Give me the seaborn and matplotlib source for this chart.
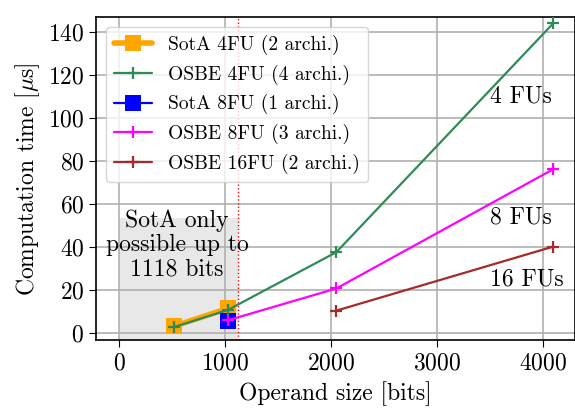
import matplotlib
matplotlib.use("Agg")
import matplotlib.pyplot as plt
import seaborn as sns
import pandas as pd

# Data
sota4_x = [512, 1024]
sota4_y = [3.2, 11.5]
osbe4_x = [512, 1024, 2048, 4096]
osbe4_y = [2.8, 10.8, 37.7, 144.2]
sota8_x = [1024]
sota8_y = [5.8]
osbe8_x = [1024, 2048, 4096]
osbe8_y = [6.0, 20.8, 76.3]
osbe16_x = [2048, 4096]
osbe16_y = [10.5, 40.3]
limit_bits = 1118

sns.set_style("whitegrid")
plt.rcParams.update({
    "font.family": "serif",
    "font.serif": ["cmr10"],
    "mathtext.fontset": "cm",
    "axes.formatter.use_mathtext": True,
    "axes.edgecolor": "black",
    "axes.linewidth": 1.2,
    "grid.color": "#b0b0b0",
    "grid.linewidth": 1.2,
    "xtick.bottom": True,
    "ytick.left": True,
    "xtick.major.size": 5,
    "ytick.major.size": 5,
    "xtick.color": "black",
    "ytick.color": "black",
    "text.color": "black",
    "axes.labelcolor": "black",
})

fig, ax = plt.subplots(figsize=(5.75, 4.09), dpi=100)
fig.subplots_adjust(left=0.167, right=1.0, top=0.958, bottom=0.168)

# shaded region
ax.fill_between([0, limit_bits], [-5, -5], [53.5, 53.5], color="#e8e8e8", zorder=0.5, lw=0)
ax.axvline(limit_bits, color="red", ls=":", lw=1, zorder=1)

def draw(x, y, color, marker, label, lw, z, ms=9, mew=1.6):
    sns.lineplot(x=x, y=y, ax=ax, color=color, lw=lw, marker=marker, markersize=ms,
                 markeredgewidth=mew, markeredgecolor=color, markerfacecolor=color,
                 label=label, zorder=z)

draw(sota4_x, sota4_y, "orange", "s", "SotA 4FU (2 archi.)", 4, 3, ms=11, mew=0)
draw(osbe4_x, osbe4_y, "seagreen", "+", "OSBE 4FU (4 archi.)", 1.6, 5)
draw(sota8_x, sota8_y, "blue", "s", "SotA 8FU (1 archi.)", 1.6, 3, ms=11, mew=0)
draw(osbe8_x, osbe8_y, "magenta", "+", "OSBE 8FU (3 archi.)", 1.6, 4)
draw(osbe16_x, osbe16_y, "brown", "+", "OSBE 16FU (2 archi.)", 1.6, 4)

fs = 17
ax.text(545, 41, "SotA only\npossible up to\n1118 bits", ha="center", va="center", fontsize=fs,
        linespacing=1.1, zorder=2)
ax.text(3500, 110, "4 FUs", ha="left", va="center", fontsize=fs)
ax.text(3500, 54, "8 FUs", ha="left", va="center", fontsize=fs)
ax.text(3500, 25, "16 FUs", ha="left", va="center", fontsize=fs)

ax.set_xlim(-220, 4300)
ax.set_ylim(-3.3, 147)
ax.set_xticks([0, 1000, 2000, 3000, 4000])
ax.set_yticks([0, 20, 40, 60, 80, 100, 120, 140])
ax.tick_params(labelsize=17)
ax.set_xlabel("Operand size [bits]", fontsize=17, labelpad=5)
ax.set_ylabel(r"Computation time [$\mu$s]", fontsize=17)

leg = ax.legend(loc="upper left", fontsize=14, frameon=True, framealpha=0.8, fancybox=True)
leg.get_frame().set_edgecolor("#cccccc")

fig.savefig("out.png", dpi=100)
